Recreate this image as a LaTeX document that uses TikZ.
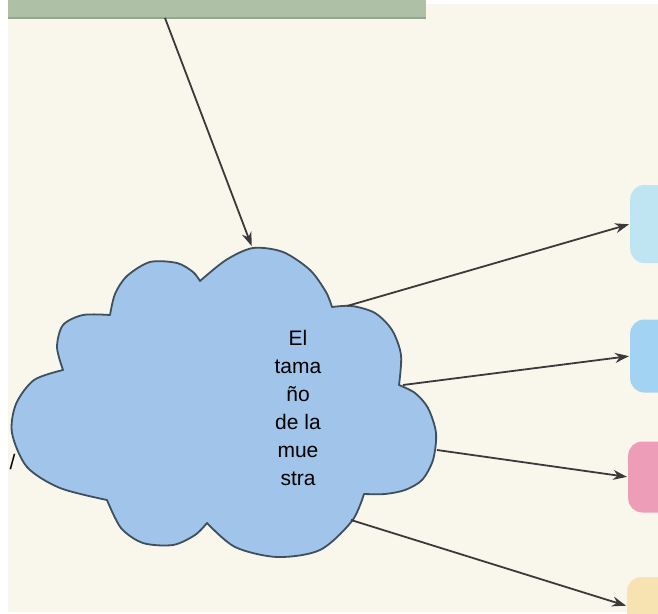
\documentclass[tikz,border=0pt]{standalone}
\usepackage{fontspec}
\setmainfont{Liberation Sans}
\usetikzlibrary{arrows.meta}
\definecolor{paper}{HTML}{F9F7EC}
\definecolor{greenc}{HTML}{AEC0A6}
\definecolor{greenedge}{HTML}{95A68F}
\definecolor{cloudfill}{HTML}{A0C4EA}
\definecolor{cloudedge}{HTML}{3E4F5E}
\definecolor{arrowc}{HTML}{3A3A3A}
\definecolor{boxa}{HTML}{BFE4F2}
\definecolor{boxb}{HTML}{A3D3F2}
\definecolor{boxc}{HTML}{EE9DB9}
\definecolor{boxd}{HTML}{F7E2B2}
\begin{document}
\begin{tikzpicture}[x=1pt,y=-1pt,
  conn/.style={draw=arrowc, line width=1.8pt, shorten >=1pt, -{Stealth[length=14pt,width=10pt]}},
  sidebox/.style={rounded corners=14pt, minimum width=70pt, anchor=west, inner sep=0pt, draw=none},
  cloudstyle/.style={fill=cloudfill, draw=cloudedge, line width=1.8pt, line join=round},
  lbl/.style={font=\fontsize{21}{28}\selectfont, align=center, inner sep=0pt}]
\useasboundingbox (0,0) rectangle (658,613);
\clip (0,0) rectangle (658,613);
\fill[white] (0,0) rectangle (658,613);
\fill[paper] (8,4) rectangle (658,612);
% top green box (cut off)
\node[fill=greenc, minimum width=418pt, minimum height=24pt, anchor=south west, inner sep=0pt] (src) at (8,18) {};
\draw[greenedge, line width=1.2pt] (src.south west) -- (src.south east);
% side boxes (cut off at the right edge)
\node[sidebox, fill=boxa, minimum height=78pt] (b1) at (630,224) {};
\node[sidebox, fill=boxb, minimum height=73pt] (b2) at (630,356) {};
\node[sidebox, fill=boxc, minimum height=71pt] (b3) at (628,477) {};
\node[sidebox, fill=boxd, minimum height=58pt] (b4) at (627,606) {};
% cloud
\path[cloudstyle]
  plot[smooth] coordinates {(110,315) (115,294) (127,276) (150,262) (177,263) (193,272) (200,281)}
  -- plot[smooth] coordinates {(200,281) (226,260) (253,248) (283,252) (310,270) (326,292) (332,307)}
  -- plot[smooth] coordinates {(332,307) (352,306) (375,313) (392,330) (401,355) (399,385)}
  -- plot[smooth] coordinates {(399,385) (415,393) (428,408) (436,433) (433,460) (422,480) (405,490) (385,494) (364,494)}
  -- plot[smooth] coordinates {(364,494) (352,521) (320,550) (277,557) (235,547) (207,523)}
  -- plot[smooth] coordinates {(207,523) (195,535) (173,545) (143,543) (121,528) (107,500)}
  -- plot[smooth] coordinates {(107,500) (60,488) (27,467) (12,433) (16,404) (34,380) (63,370)}
  -- plot[smooth] coordinates {(63,370) (57,347) (63,325) (83,315) (110,315)}
  -- cycle;
\node[lbl, anchor=north] (label) at (298,330) {El\\tama\\ño\\de la\\mue\\stra};
\node[lbl, anchor=base] (slash) at (12.5,469) {/};
% connector end points on the cloud outline
\coordinate (t0) at (165,18);
\coordinate (ctop) at (252,247);
\coordinate (c1) at (347,306);
\coordinate (c2) at (403,385);
\coordinate (c3) at (437,450);
\coordinate (c4) at (351,520);
\draw[conn] (t0) -- (ctop);
\draw[conn] (c1) -- (b1.west);
\draw[conn] (c2) -- (b2.west);
\draw[conn] (c3) -- (b3.west);
\draw[conn] (c4) -- (b4.west);
\end{tikzpicture}
\end{document}
